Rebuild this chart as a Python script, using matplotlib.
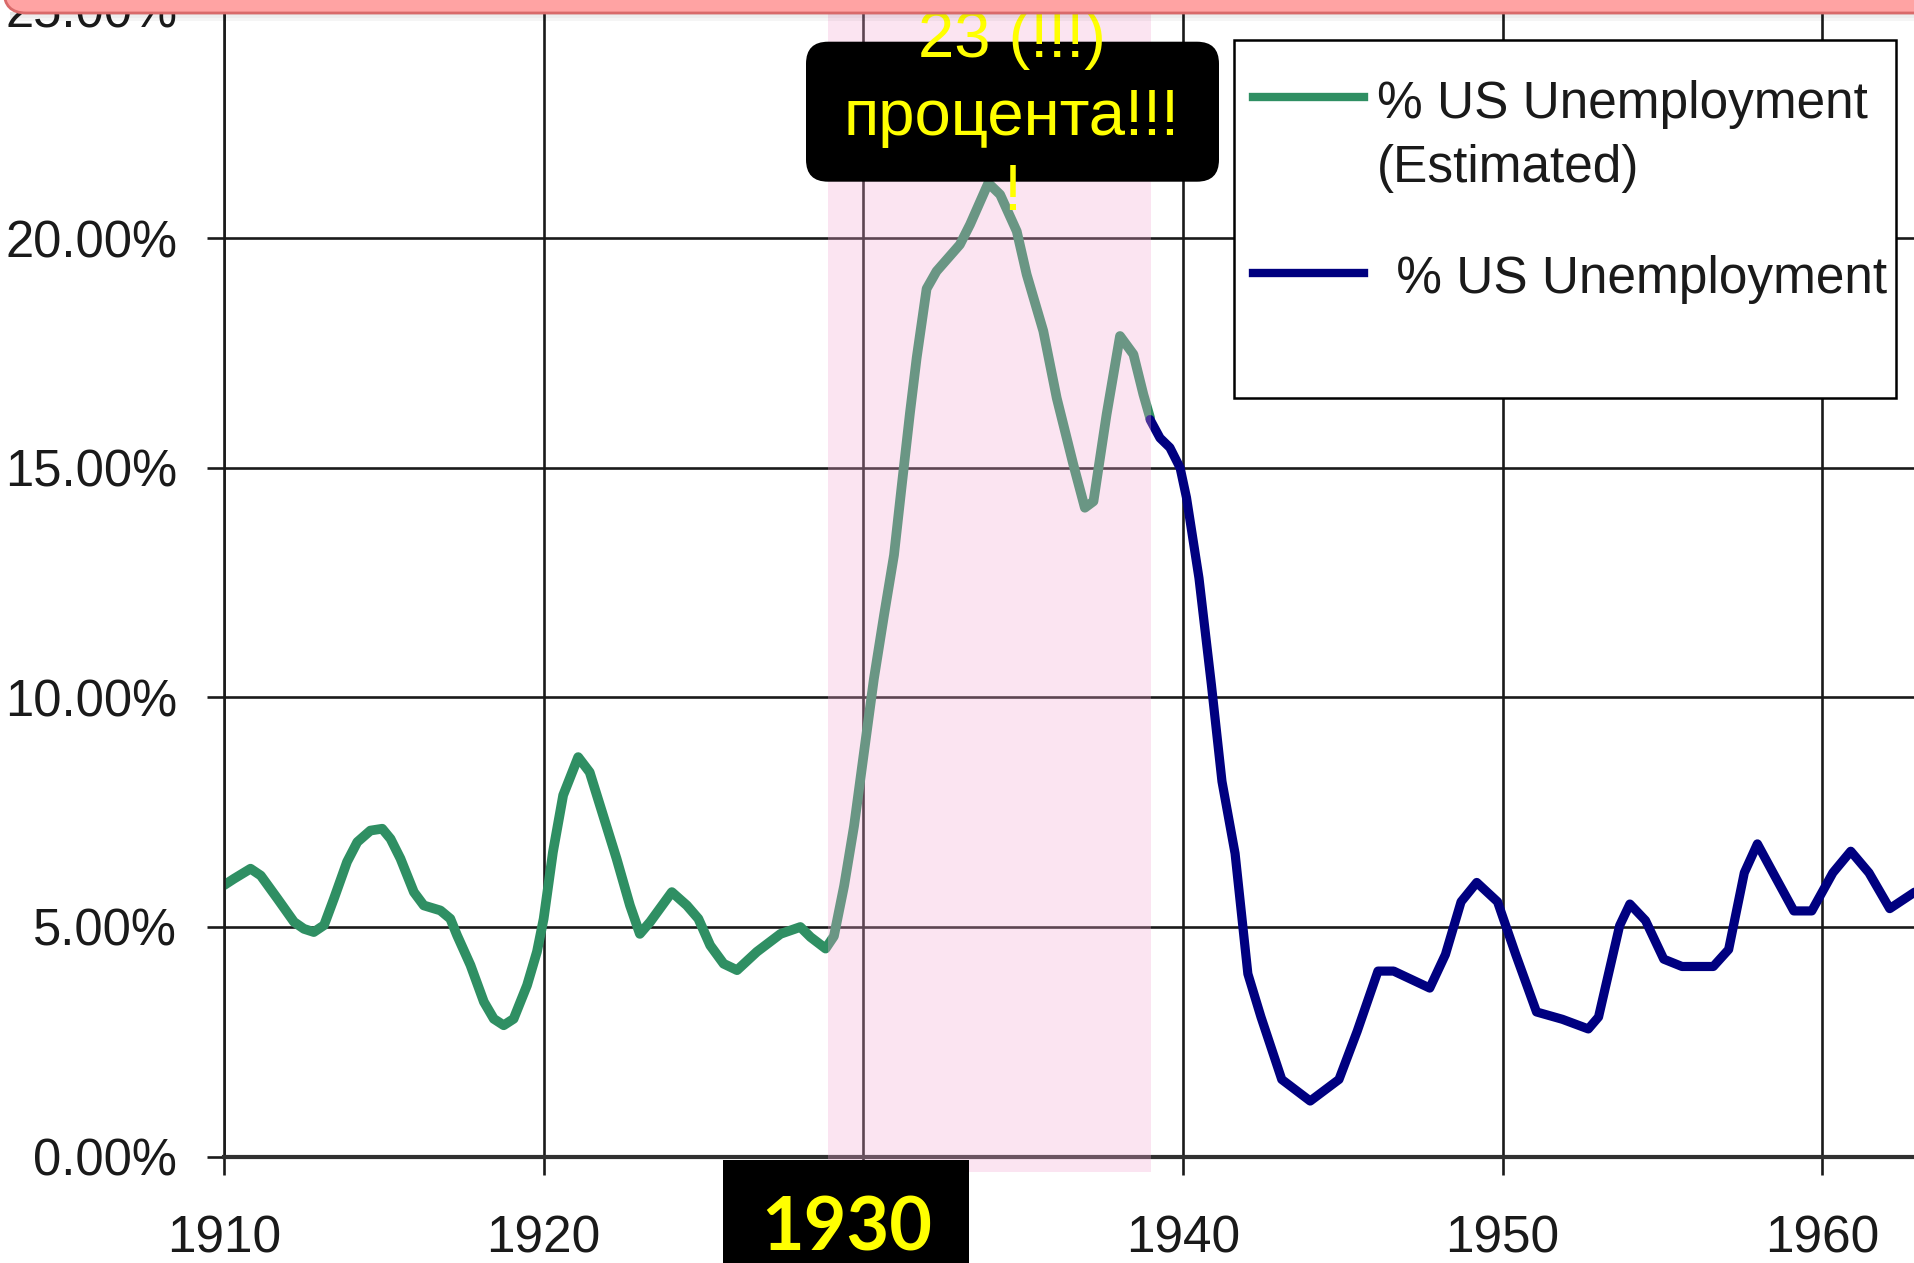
import matplotlib
matplotlib.use("Agg")
import matplotlib.pyplot as plt
import matplotlib.transforms as mtransforms
from matplotlib.patches import Rectangle, FancyBboxPatch
from matplotlib.lines import Line2D

W, H = 1915, 1263

# --- data --------------------------------------------------------------
est_years = [1910.0, 1910.31, 1910.83, 1911.15, 1911.67, 1912.19, 1912.5, 1912.81,
             1913.13, 1913.44, 1913.85, 1914.17, 1914.58, 1914.95, 1915.21, 1915.52,
             1915.94, 1916.25, 1916.77, 1917.08, 1917.29, 1917.71, 1918.13, 1918.44,
             1918.75, 1919.06, 1919.48, 1919.79, 1920.0, 1920.29, 1920.61, 1921.08,
             1921.44, 1921.86, 1922.28, 1922.70, 1923.01, 1923.33, 1924.01, 1924.48,
             1924.84, 1925.21, 1925.63, 1926.05, 1926.67, 1927.41, 1928.03, 1928.35,
             1928.82, 1929.08, 1929.40, 1929.71, 1930.02, 1930.33, 1930.65, 1930.96,
             1931.2, 1931.46, 1931.67, 1931.98, 1932.29, 1933.02, 1933.34, 1933.91,
             1934.28, 1934.80, 1935.11, 1935.63, 1936.05, 1936.57, 1936.93, 1937.2,
             1937.61, 1938.03, 1938.45, 1938.76, 1938.97]
est_rate = [5.91, 6.05, 6.27, 6.12, 5.62, 5.11, 4.96, 4.89,
            5.04, 5.62, 6.42, 6.85, 7.10, 7.14, 6.92, 6.49,
            5.76, 5.47, 5.36, 5.18, 4.82, 4.17, 3.37, 3.0,
            2.86, 3.0, 3.73, 4.46, 5.18, 6.63, 7.87, 8.70,
            8.37, 7.43, 6.49, 5.47, 4.85, 5.11, 5.76, 5.47,
            5.18, 4.60, 4.20, 4.06, 4.46, 4.85, 5.0, 4.78,
            4.53, 4.8, 5.9, 7.2, 8.8, 10.4, 11.8, 13.1,
            14.6, 16.2, 17.4, 18.9, 19.28, 19.86, 20.30, 21.20,
            20.95, 20.15, 19.21, 17.98, 16.52, 15.07, 14.13, 14.27,
            16.16, 17.87, 17.47, 16.6, 16.09]

act_years = [1938.97, 1939.28, 1939.59, 1939.91, 1940.11, 1940.5, 1940.89, 1941.22,
             1941.63, 1942.03, 1942.44, 1943.09, 1943.98, 1944.88, 1945.45, 1946.1,
             1946.59, 1947.72, 1948.21, 1948.7, 1949.19, 1949.84, 1950.41, 1951.06,
             1951.87, 1952.68, 1953.0, 1953.66, 1953.98, 1954.47, 1955.04, 1955.61,
             1956.59, 1957.07, 1957.56, 1957.97, 1958.46, 1959.11, 1959.67, 1960.33,
             1960.89, 1961.46, 1962.11, 1962.89]
act_rate = [16.05, 15.65, 15.44, 15.0, 14.35, 12.6, 10.27, 8.17,
            6.6, 3.98, 3.04, 1.68, 1.21, 1.68, 2.73, 4.04,
            4.04, 3.67, 4.4, 5.55, 5.97, 5.55, 4.40, 3.15,
            2.99, 2.78, 3.04, 5.03, 5.5, 5.14, 4.3, 4.14,
            4.14, 4.51, 6.18, 6.81, 6.18, 5.35, 5.35, 6.18,
            6.65, 6.18, 5.4, 5.76]

x_ticks = [1910, 1920, 1930, 1940, 1950, 1960]
y_ticks = [0, 5, 10, 15, 20, 25]
band_start, band_end = 1928.88, 1939.0
note_lines = ["23 (!!!)", "процента!!!", "!"]
legend_est = ["% US Unemployment", "(Estimated)"]
legend_act = " % US Unemployment"
highlight = 1930

GREEN = "#2f8f63"
NAVY = "#000080"
INK = "#1a1a1a"

plt.rcParams["font.family"] = ["Liberation Sans", "DejaVu Sans"]

fig = plt.figure(figsize=(W / 100, H / 100), dpi=100)
fig.patch.set_facecolor("white")
ax = fig.add_axes([224 / W, 106.4 / H, (W - 224) / W, 1148 / H])
T = mtransforms.IdentityTransform()  # pixel coords for the overlays


def py(y_top):
    return H - y_top


ax.plot(est_years, est_rate, color=GREEN, lw=7.0, solid_joinstyle="round",
        solid_capstyle="round", zorder=2)
ax.plot(act_years, act_rate, color=NAVY, lw=6.6, solid_joinstyle="round",
        solid_capstyle="round", zorder=2)

# pink highlight of the depression years, sits over the line
ax.add_patch(Rectangle((band_start, -0.335), band_end - band_start, 26.5,
                       facecolor="#f5a8d3", alpha=0.3, edgecolor="none",
                       clip_on=False, zorder=3))

ax.set_xlim(1910, 1962.9)
ax.set_ylim(0, 25)
ax.set_xticks(x_ticks)
# the 1930 label is replaced by the highlighted tag below
ax.set_xticklabels(["" if v == highlight else str(v) for v in x_ticks])
ax.set_yticks(y_ticks)
ax.set_yticklabels([f"{v:.2f}%" for v in y_ticks])
ax.grid(True, color=INK, lw=1.9)
for side in ("top", "right"):
    ax.spines[side].set_visible(False)
ax.spines["left"].set_color(INK)
ax.spines["left"].set_linewidth(1.9)
ax.spines["bottom"].set_color("#303030")
ax.spines["bottom"].set_linewidth(3.0)
ax.tick_params(axis="y", length=12.2, width=1.9, pad=21.6, labelsize=36.5,
               color=INK, labelcolor=INK)
ax.tick_params(axis="x", length=13.2, width=1.9, pad=28.8, labelsize=37,
               color=INK, labelcolor=INK)

# black callout with yellow text
fig.add_artist(FancyBboxPatch((806, py(181.7)), 413, 140,
                              boxstyle="round,pad=0,rounding_size=22",
                              transform=T, facecolor="black", edgecolor="none",
                              zorder=4))
for s, base in zip(note_lines, [57, 135, 210]):
    fig.text(1012, py(base), s, transform=T, ha="center", va="baseline",
             fontsize=47, color="#ffff00", zorder=5)

# legend box
fig.add_artist(Rectangle((1233.5, py(398)), 662.5, 358, transform=T,
                         facecolor="white", edgecolor="black", lw=1.8, zorder=4))
fig.add_artist(Line2D([1253, 1364], [py(96.7)] * 2, transform=T, color=GREEN,
                      lw=6.0, zorder=5))
fig.add_artist(Line2D([1253, 1364], [py(273)] * 2, transform=T, color=NAVY,
                      lw=6.0, zorder=5))
fig.text(1377, py(118), legend_est[0], transform=T, va="baseline",
         fontsize=37, color=INK, zorder=5)
fig.text(1377, py(182), legend_est[1], transform=T, va="baseline",
         fontsize=37, color=INK, zorder=5)
fig.text(1382, py(293), legend_act, transform=T, va="baseline",
         fontsize=37, color=INK, zorder=5)

# black tag in place of the 1930 tick label
fig.add_artist(Rectangle((723, -5), 246, py(1160) + 5, transform=T,
                         facecolor="black", edgecolor="none", zorder=4))
fig.text(847, py(1250.7), str(highlight), transform=T, ha="center",
         va="baseline", fontsize=53, fontfamily="Lato", fontweight="bold",
         color="#ffff00", zorder=5)

# slide title bar peeking in at the top, with a soft shadow
for k, a in enumerate([0.10, 0.07, 0.04]):
    fig.add_artist(Rectangle((10, py(15 + 3 * k)), W, 3, transform=T,
                             facecolor="black", alpha=a, edgecolor="none",
                             zorder=9))
fig.add_artist(FancyBboxPatch((4, py(13)), W + 60, 80,
                              boxstyle="round,pad=0,rounding_size=22",
                              transform=T, facecolor="#ffa3a3",
                              edgecolor="#d96a6a", lw=2, zorder=10))

fig.savefig("out.png", dpi=100)
